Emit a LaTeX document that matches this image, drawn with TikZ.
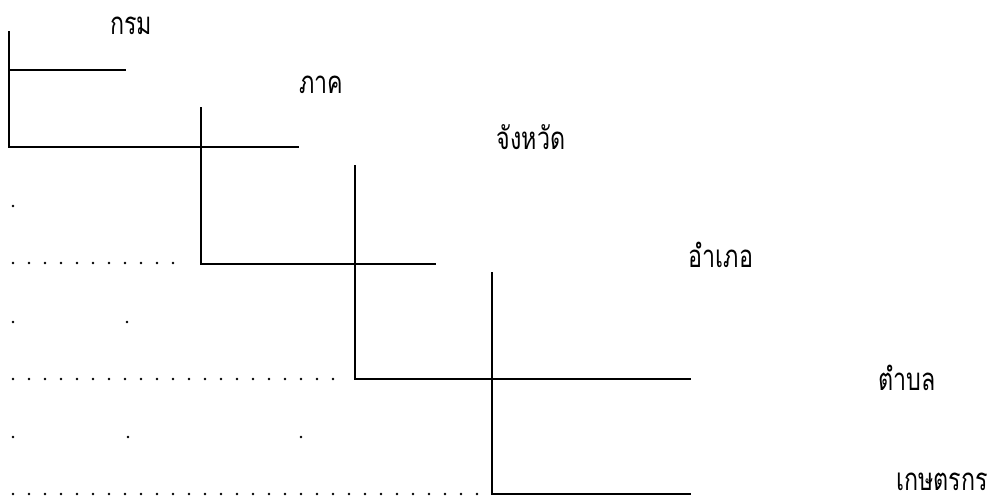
\documentclass[tikz,border=0pt]{standalone}
\usepackage{fontspec}
\usepackage{graphicx}
\newfontfamily\thaifont[Script=Thai]{Loma}
\newcommand{\tallthai}[1]{\scalebox{0.97}[1.3]{#1}}
\begin{document}
\begin{tikzpicture}[x=1pt,y=-1pt,
  solidline/.style={line width=2.8pt, line cap=rect},
  dotline/.style={line width=2.6pt, line cap=round, dash pattern=on 0pt off 16pt},
  label/.style={font=\thaifont\fontsize{24}{28}\selectfont, inner sep=0pt, anchor=base},
  spot/.style={fill=black}]
\useasboundingbox (0,0) rectangle (988,503);
% text labels
\node[label] (krom) at (131,35) {\tallthai{กรม}};
\node[label] (phak) at (321,93) {\tallthai{ภาค}};
\node[label] (changwat) at (531,149) {\tallthai{จังหวัด}};
\node[label] (amphoe) at (721,267) {\tallthai{อำเภอ}};
\node[label] (tambon) at (907,390) {\tallthai{ตำบล}};
\node[label] (kaset) at (942,490) {\tallthai{เกษตรกร}};
% line end points
\coordinate (a1) at (9,32);
\coordinate (a2) at (9,70);
\coordinate (a3) at (125,70);
\coordinate (a4) at (9,147);
\coordinate (a5) at (298,147);
\coordinate (b1) at (201,108);
\coordinate (b2) at (201,264);
\coordinate (b3) at (435,264);
\coordinate (c1) at (355,166);
\coordinate (c2) at (355,379);
\coordinate (c3) at (690,379);
\coordinate (d1) at (492,273);
\coordinate (d2) at (492,494);
\coordinate (d3) at (690,494);
\coordinate (e1) at (13,263);
\coordinate (e2) at (182,263);
\coordinate (f1) at (13,379);
\coordinate (f2) at (335,379);
\coordinate (g1) at (13,494);
\coordinate (g2) at (485,494);
% solid lines
\draw[solidline] (a1) -- (a4) -- (a5);
\draw[solidline] (a2) -- (a3);
\draw[solidline] (b1) -- (b2) -- (b3);
\draw[solidline] (c1) -- (c2) -- (c3);
\draw[solidline] (d1) -- (d2) -- (d3);
% dotted lines
\draw[dotline] (e1) -- (e2);
\draw[dotline] (f1) -- (f2);
\draw[dotline] (g1) -- (g2);
% single dots
\foreach \p in {(13,206),(13,322),(127,322),(13,437),(128,437),(301,437)}
  \fill[spot] \p circle (1.4pt);
\end{tikzpicture}
\end{document}
